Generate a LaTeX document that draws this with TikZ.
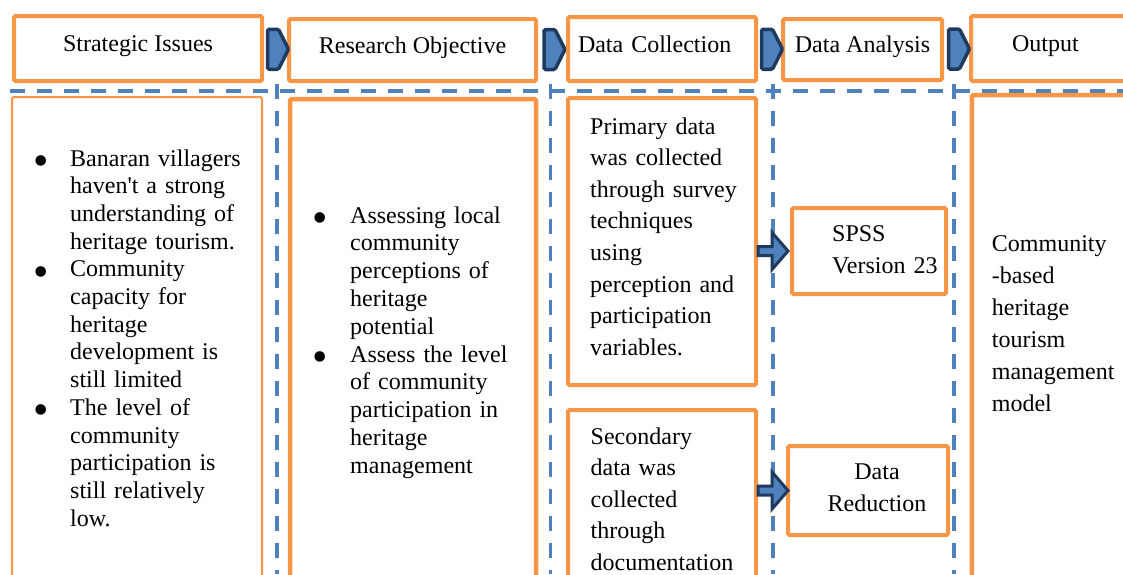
\documentclass[tikz,border=0pt]{standalone}
\usepackage{fontspec}
\setmainfont{Liberation Serif}[Ligatures=TeXOff]
\usetikzlibrary{calc}

\definecolor{boxorange}{HTML}{F79646}
\definecolor{lineblue}{HTML}{4F81BD}
\definecolor{navy}{HTML}{1F3A5F}

% bullet item with hanging indent, each item closed by \par
\newcommand\bull{{\fontsize{44}{0}\selectfont\raisebox{-9.5pt}{\textbullet}}}
\newcommand\bitem[1]{\hangindent=#1\hangafter=1\noindent\makebox[#1][l]{\bull}}

\tikzset{
    x=1pt, y=-1pt,
    box/.style={draw=boxorange, line width=4pt, rounded corners=1.5pt, fill=white},
    head/.style={box, text height=17pt, text depth=11pt, font=\fontsize{24}{28}\selectfont},
    txt/.style={anchor=base west, inner sep=0pt, align=left, font=\fontsize{24}{#1}\selectfont},
    sep/.style={lineblue, line width=3.5pt, dash pattern=on 15pt off 12pt},
    chev/.pic={\filldraw[navy, fill=lineblue, line width=3.5pt, rounded corners=1.5pt]
        (-10,-20) -- (1,-20) -- (11,0) -- (1,20) -- (-10,20) -- cycle;},
    push/.pic={\filldraw[navy, fill=lineblue, line width=3pt]
        (0,-4.5) -- (14,-4.5) -- (14,-18.5) -- (30,0) -- (14,18.5) -- (14,4.5) -- (0,4.5) -- cycle;}
}

\begin{document}
\begin{tikzpicture}
\useasboundingbox (0,0) rectangle (1123,574);

% dashed column guides
\draw[sep] (10,91) -- (1123,91);
\foreach \x in {277,550.5,773,954}
    \draw[sep] (\x,84) -- (\x,574);

% header row
\node[head, minimum width=248pt, minimum height=65pt] (strat) at (138,48.5) {Strategic Issues};
\node[head, minimum width=247pt, minimum height=62pt] (resobj) at (412.5,50) {Research Objective};
\node[head, minimum height=64pt, text width=168pt, inner xsep=10pt, align=left] (datacol) at (662,49) {Data Collection};
\node[head, minimum width=159pt, minimum height=61pt] (dataana) at (862.5,49.5) {Data Analysis};
\node[head, minimum height=65pt, text width=130pt, inner xsep=41pt, align=left, anchor=west] (output) at (969,48.5) {Output};

\foreach \a/\b in {strat/resobj, resobj/datacol, datacol/dataana, dataana/output}
    \pic at ($(\a.east)!.5!(\b.west)+(2,0)$) {chev};

% column bodies
\node[box, line width=2pt, minimum width=250pt, minimum height=523pt] (issues) at (137,358.5) {};
\node[box, line width=4.5pt, minimum width=246pt, minimum height=521pt] (objectives) at (413,359.5) {};
\node[box, minimum width=188pt, minimum height=287pt] (primary) at (662,241.5) {};
\node[box, minimum width=188pt, minimum height=210pt] (secondary) at (662,515) {};
\node[box, minimum width=154pt, minimum height=86pt] (spss) at (869,251) {};
\node[box, minimum width=160pt, minimum height=89pt] (reduction) at (868,490.5) {};
\node[box, line width=4.5pt, minimum width=200pt, minimum height=525pt, anchor=west] (model) at (969.5,357.5) {};

\pic at (primary.east |- spss.west) {push};
\pic at (secondary.east |- reduction.west) {push};

% texts
\node[txt=27.7, text width=225pt] (issuestext) at (33,166) {%
    \bitem{37pt}Banaran villagers\newline haven't a strong\newline understanding of\newline heritage tourism.\par
    \bitem{37pt}Community\newline capacity for\newline heritage\newline development is\newline still limited\par
    \bitem{37pt}The level of\newline community\newline participation is\newline still relatively\newline low.\par};
\node[txt=27.8, text width=220pt] (objtext) at (312,223) {%
    \bitem{38pt}Assessing local\newline community\newline perceptions of\newline heritage\newline potential\par
    \bitem{38pt}Assess the level\newline of community\newline participation in\newline heritage\newline management\par};
\node[txt=31.6, text width=160pt] (primtext) at (590,134) {Primary data\\was collected\\through survey\\techniques\\using\\perception and\\participation\\variables.};
\node[txt=31.6, text width=165pt] (sectext) at (590.5,444) {Secondary\\data was\\collected\\through\\documentation};
\node[txt=31.6, text width=110pt] (spsstext) at (832,241.5) {SPSS\\Version 23};
\node[txt=32.5, text width=110pt, align=center, anchor=base] (redtext) at (877,479) {Data\\Reduction};
\node[txt=32, text width=130pt] (modeltext) at (991.7,251.5) {Community\\-based\\heritage\\tourism\\management\\model};
\end{tikzpicture}
\end{document}
